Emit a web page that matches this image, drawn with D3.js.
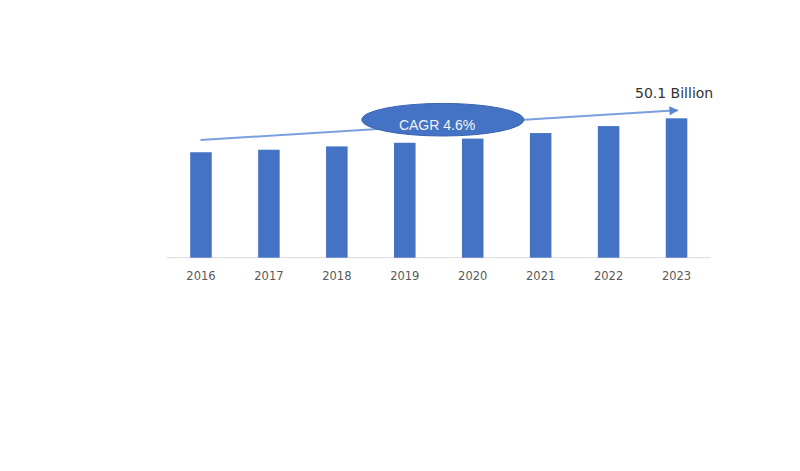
<!DOCTYPE html>
<html><head><meta charset="utf-8">
<script src="https://cdn.jsdelivr.net/npm/d3@7"></script>
<style>html,body{margin:0;padding:0;background:#fff;}svg{display:block;}</style>
</head><body>
<script>
const years = ["2016","2017","2018","2019","2020","2021","2022","2023"];
const values = [37.9, 38.8, 40.0, 41.3, 42.8, 44.8, 47.3, 50.1];
const endLabel = "50.1 Billion";
const cagrLabel = "CAGR 4.6%";

const W = 800, H = 471;
const svg = d3.select("body").append("svg").attr("width", W).attr("height", H);

const x = d3.scaleBand().domain(years).range([167, 710.5]).paddingInner(0.683).paddingOuter(0.3415);
const y = d3.scaleLinear().domain([0, 50.1]).range([257.7, 118.3]);

// axis baseline
svg.append("line").attr("x1", 167).attr("x2", 710.5).attr("y1", y(0)).attr("y2", y(0))
  .attr("stroke", "#d9d9d9").attr("stroke-width", 1);

// bars
svg.selectAll("rect.bar").data(values).join("rect").attr("class","bar")
  .attr("x", (d,i) => x(years[i])).attr("width", x.bandwidth())
  .attr("y", d => y(d)).attr("height", d => y(0) - y(d))
  .attr("fill", "#4472c4");

// x labels
const xAxis = d3.axisBottom(x).tickSize(0).tickPadding(14);
const gx = svg.append("g").attr("transform", `translate(0,${y(0)})`).call(xAxis);
gx.select(".domain").remove();
gx.selectAll("text").attr("font-family","DejaVu Sans, sans-serif").attr("font-size","11.5px").attr("fill","#595959");

// arrow
const defs = svg.append("defs");
defs.append("marker").attr("id","ah").attr("viewBox","0 0 10 10").attr("refX",9).attr("refY",5)
  .attr("markerWidth",5).attr("markerHeight",4.5).attr("markerUnits","strokeWidth").attr("orient","auto")
  .append("path").attr("d","M0,0 L10,5 L0,10 Z").attr("fill","#5b87cf");
svg.append("line").attr("x1", x("2016") + x.bandwidth()/2 - 0.5).attr("y1", 140)
  .attr("x2", x("2023") + x.bandwidth()/2 + 1).attr("y2", 110.3)
  .attr("stroke","#7aa0dc").attr("stroke-width",2).attr("marker-end","url(#ah)");

// CAGR ellipse
svg.append("ellipse").attr("cx", 442.8).attr("cy", 119.7).attr("rx", 81).attr("ry", 16.3)
  .attr("fill","#4472c4").attr("stroke","#3a64b0").attr("stroke-width",1);
svg.append("text").attr("x", 437).attr("y", 129.5).attr("text-anchor","middle")
  .attr("font-family","Liberation Sans, Arial, sans-serif").attr("font-size","14px").attr("fill","#f2f2f2")
  .text(cagrLabel);

// end label
svg.append("text").attr("x", 635).attr("y", 97.7)
  .attr("font-family","DejaVu Sans, sans-serif").attr("font-size","14px").attr("fill","#333")
  .text(endLabel);
</script>
</body></html>
